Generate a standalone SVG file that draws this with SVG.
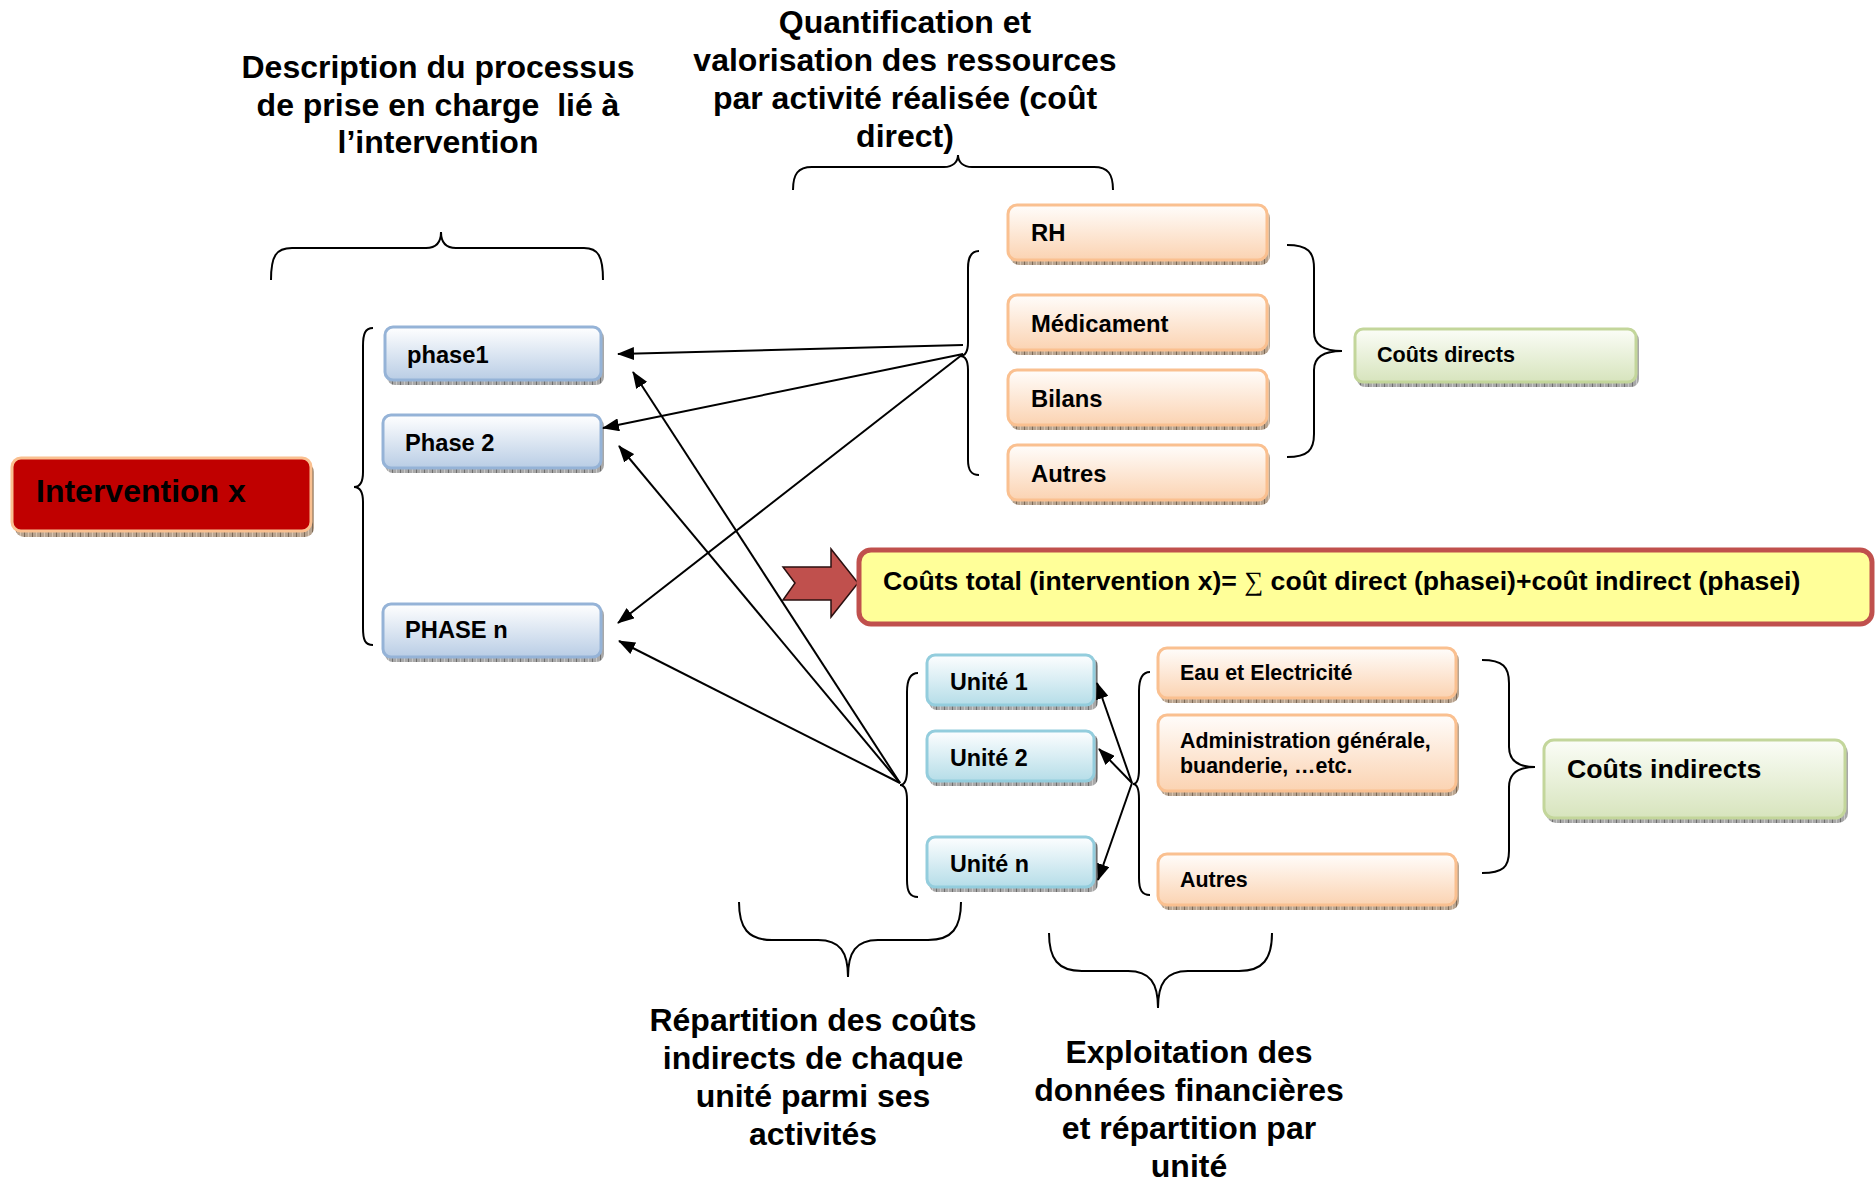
<svg xmlns="http://www.w3.org/2000/svg" width="1876" height="1181" viewBox="0 0 1876 1181">
<defs>
<linearGradient id="gBlue" x1="0" y1="0" x2="0" y2="1"><stop offset="0" stop-color="#ffffff"/><stop offset="1" stop-color="#b9cde5"/></linearGradient>
<linearGradient id="gOrange" x1="0" y1="0" x2="0" y2="1"><stop offset="0" stop-color="#fffdfb"/><stop offset="1" stop-color="#fbd3b2"/></linearGradient>
<linearGradient id="gGreen" x1="0" y1="0" x2="0" y2="1"><stop offset="0" stop-color="#fbfdf7"/><stop offset="1" stop-color="#d7e4bd"/></linearGradient>
<linearGradient id="gCyan" x1="0" y1="0" x2="0" y2="1"><stop offset="0" stop-color="#fdfeff"/><stop offset="1" stop-color="#b5dde8"/></linearGradient>
<pattern id="hGray" width="8" height="4" patternUnits="userSpaceOnUse"><rect width="8" height="4" fill="#a8a8a8"/><rect width="1" height="4" fill="#6f6f6f"/><rect x="4" width="1" height="4" fill="#c8c8c8"/></pattern>
<pattern id="hTan" width="8" height="4" patternUnits="userSpaceOnUse"><rect width="8" height="4" fill="#b8a490"/><rect width="1" height="4" fill="#7c6a58"/><rect x="4" width="1" height="4" fill="#d8c4b0"/></pattern>
<marker id="ah" markerUnits="userSpaceOnUse" markerWidth="17" markerHeight="13" refX="16" refY="6.5" orient="auto"><path d="M0,0 L17,6.5 L0,13 z" fill="#000"/></marker>
</defs>
<style>
.t{font-family:"Liberation Sans",Arial,sans-serif;font-weight:bold;fill:#000}
.h{font-size:32px;text-anchor:middle}
.br{fill:none;stroke:#000;stroke-width:2}
.cn{stroke:#000;stroke-width:2;fill:none;marker-end:url(#ah)}
.shG{fill:url(#hGray)}
.shT{fill:url(#hTan)}
.blue{fill:url(#gBlue);stroke:#95b3d7;stroke-width:3}
.orange{fill:url(#gOrange);stroke:#fac090;stroke-width:3}
.green{fill:url(#gGreen);stroke:#c3d69b;stroke-width:3}
.cyan{fill:url(#gCyan);stroke:#93cddd;stroke-width:3}
</style>
<rect width="1876" height="1181" fill="#ffffff"/>

<g id="labels">
<text class="t h" x="438" y="78">Description du processus</text>
<text class="t h" x="438" y="116" style="white-space:pre">de prise en charge  lié à</text>
<text class="t h" x="438" y="153">l’intervention</text>
<text class="t h" x="905" y="33">Quantification et</text>
<text class="t h" x="905" y="71">valorisation des ressources</text>
<text class="t h" x="905" y="109">par activité réalisée (coût</text>
<text class="t h" x="905" y="147">direct)</text>
<text class="t h" x="813" y="1031">Répartition des coûts</text>
<text class="t h" x="813" y="1069">indirects de chaque</text>
<text class="t h" x="813" y="1107">unité parmi ses</text>
<text class="t h" x="813" y="1145">activités</text>
<text class="t h" x="1189" y="1063">Exploitation des</text>
<text class="t h" x="1189" y="1101">données financières</text>
<text class="t h" x="1189" y="1139">et répartition par</text>
<text class="t h" x="1189" y="1177">unité</text>
</g>

<g id="braces">
<path class="br" d="M271,280 C271,256 276,248 292,248 L426,248 C436,248 441,242 441,232 C441,242 446,248 456,248 L584,248 C598,248 603,256 603,280"/>
<path class="br" d="M793,190 C793,174 798,167 812,167 L944,167 C953,167 958,162 958,155 C958,162 963,167 972,167 L1094,167 C1108,167 1113,174 1113,190"/>
<path class="br" d="M373,328 C365,328 363,334 363,346 L363,472 C363,482 360,487 354,487 C360,487 363,492 363,502 L363,628 C363,640 365,645 373,645"/>
<path class="br" d="M979,251 C971,251 968,257 968,268 L968,342 C968,351 965,356 960,356 C965,356 968,361 968,370 L968,460 C968,470 971,475 979,475"/>
<path class="br" d="M1287,245 C1308,245 1314,252 1314,268 L1314,332 C1314,346 1325,351 1342,351 C1325,351 1314,356 1314,370 L1314,434 C1314,450 1308,457 1287,457"/>
<path class="br" d="M918,673 C910,673 907,680 907,692 L907,770 C907,780 905,785 900,785 C905,785 907,790 907,800 L907,880 C907,892 910,897 918,897"/>
<path class="br" d="M1150,672 C1142,672 1139,679 1139,691 L1139,769 C1139,779 1137,784 1133,784 C1137,784 1139,789 1139,799 L1139,878 C1139,890 1142,895 1150,895"/>
<path class="br" d="M1482,660 C1503,660 1509,667 1509,683 L1509,747 C1509,761 1518,767 1535,767 C1518,767 1509,773 1509,787 L1509,851 C1509,867 1503,873 1482,873"/>
<path class="br" d="M739,902 C739,928 748,940 772,940 L818,940 C840,940 848,952 848,977 C848,952 856,940 878,940 L928,940 C952,940 961,928 961,902"/>
<path class="br" d="M1049,933 C1049,959 1058,971 1082,971 L1128,971 C1150,971 1158,983 1158,1008 C1158,983 1166,971 1188,971 L1239,971 C1263,971 1272,959 1272,933"/>
</g>

<g id="intervention">
<rect class="shT" x="15" y="463" width="299" height="74" rx="9"/>
<rect x="12" y="458" width="299" height="73" rx="9" fill="#c00000" stroke="#fac090" stroke-width="3"/>
<text class="t" x="36" y="502" font-size="32">Intervention x</text>
</g>

<g id="phase1">
<rect class="shG" x="387" y="330" width="217" height="55" rx="8"/>
<rect class="blue" x="385" y="327" width="216" height="53" rx="8"/>
<text class="t" x="407" y="363" font-size="23.7">phase1</text>
</g>
<g id="phase2">
<rect class="shG" x="385" y="418" width="219" height="55" rx="8"/>
<rect class="blue" x="383" y="415" width="218" height="53" rx="8"/>
<text class="t" x="405" y="451" font-size="23.7">Phase 2</text>
</g>
<g id="phasen">
<rect class="shG" x="385" y="607" width="219" height="55" rx="8"/>
<rect class="blue" x="383" y="604" width="218" height="53" rx="8"/>
<text class="t" x="405" y="638" font-size="23.7">PHASE n</text>
</g>

<g id="rh">
<rect class="shT" x="1010" y="209" width="260" height="56" rx="9"/>
<rect class="orange" x="1008" y="205" width="259" height="55" rx="9"/>
<text class="t" x="1031" y="241" font-size="23.8">RH</text>
</g>
<g id="medicament">
<rect class="shT" x="1010" y="299" width="260" height="56" rx="9"/>
<rect class="orange" x="1008" y="295" width="259" height="55" rx="9"/>
<text class="t" x="1031" y="332" font-size="23.8">Médicament</text>
</g>
<g id="bilans">
<rect class="shT" x="1010" y="374" width="260" height="56" rx="9"/>
<rect class="orange" x="1008" y="370" width="259" height="55" rx="9"/>
<text class="t" x="1031" y="407" font-size="23.8">Bilans</text>
</g>
<g id="autres1">
<rect class="shT" x="1010" y="449" width="260" height="56" rx="9"/>
<rect class="orange" x="1008" y="445" width="259" height="55" rx="9"/>
<text class="t" x="1031" y="482" font-size="23.8">Autres</text>
</g>

<g id="couts-directs">
<rect class="shG" x="1357" y="332" width="282" height="55" rx="8"/>
<rect class="green" x="1355" y="329" width="281" height="53" rx="8"/>
<text class="t" x="1377" y="362" font-size="21.6">Coûts directs</text>
</g>

<g id="total-arrow">
<path d="M783,567 L831,567 L831,549 L858,583 L831,617 L831,600 L783,600 L795,583 z" fill="#c0504d" stroke="#2b1010" stroke-width="1.5" stroke-linejoin="miter"/>
</g>

<g id="couts-total">
<rect x="859" y="550" width="1013" height="74" rx="12" fill="#ffff99" stroke="#c0504d" stroke-width="5"/>
<text class="t" x="883" y="590" font-size="26.6">Coûts total (intervention x)= <tspan font-family="'Liberation Serif',serif" font-weight="normal">∑</tspan> coût direct (phasei)+coût indirect (phasei)</text>
</g>

<g id="unite1">
<rect class="shG" x="929" y="658" width="169" height="52" rx="8"/>
<rect class="cyan" x="927" y="655" width="167" height="50" rx="8"/>
<text class="t" x="950" y="690" font-size="23.3">Unité 1</text>
</g>
<g id="unite2">
<rect class="shG" x="929" y="734" width="169" height="52" rx="8"/>
<rect class="cyan" x="927" y="731" width="167" height="50" rx="8"/>
<text class="t" x="950" y="766" font-size="23.3">Unité 2</text>
</g>
<g id="uniten">
<rect class="shG" x="929" y="840" width="169" height="52" rx="8"/>
<rect class="cyan" x="927" y="837" width="167" height="50" rx="8"/>
<text class="t" x="950" y="872" font-size="23.3">Unité n</text>
</g>

<g id="eau">
<rect class="shT" x="1160" y="651" width="299" height="52" rx="9"/>
<rect class="orange" x="1158" y="648" width="298" height="50" rx="9"/>
<text class="t" x="1180" y="680" font-size="21.4">Eau et Electricité</text>
</g>
<g id="administration">
<rect class="shT" x="1160" y="718" width="299" height="78" rx="9"/>
<rect class="orange" x="1158" y="715" width="298" height="76" rx="9"/>
<text class="t" x="1180" y="748" font-size="21.4">Administration générale,</text>
<text class="t" x="1180" y="773" font-size="21.4">buanderie, …etc.</text>
</g>
<g id="autres2">
<rect class="shT" x="1160" y="857" width="299" height="53" rx="9"/>
<rect class="orange" x="1158" y="854" width="298" height="51" rx="9"/>
<text class="t" x="1180" y="887" font-size="21.4">Autres</text>
</g>

<g id="couts-indirects">
<rect class="shG" x="1546" y="743" width="302" height="80" rx="10"/>
<rect class="green" x="1544" y="740" width="301" height="78" rx="10"/>
<text class="t" x="1567" y="778" font-size="26.7">Coûts indirects</text>
</g>

<g id="connectors">
<path class="cn" d="M963,345 L618,354"/>
<path class="cn" d="M963,354 L603,428"/>
<path class="cn" d="M963,354 L618,623"/>
<path class="cn" d="M900,783 L633,372"/>
<path class="cn" d="M900,783 L619,446"/>
<path class="cn" d="M900,783 L619,641"/>
<path class="cn" d="M1132,783 L1097,683"/>
<path class="cn" d="M1132,783 L1099,749"/>
<path class="cn" d="M1132,783 L1098,880"/>
</g>
</svg>
